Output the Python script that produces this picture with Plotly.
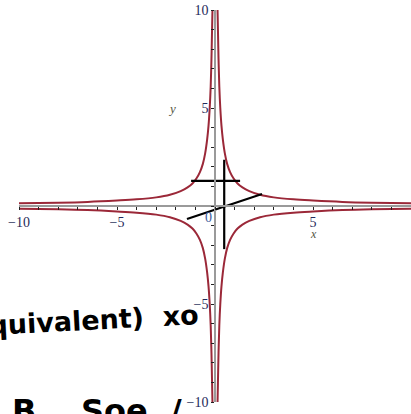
import plotly.graph_objects as go

# Branch of the curve in the first quadrant (read points); other quadrants by sign symmetry
branch_x = [0.13, 0.15, 0.18, 0.22, 0.27, 0.33, 0.40, 0.50, 0.62, 0.77, 0.95,
            1.15, 1.40, 1.75, 2.30, 3.00, 4.00, 5.00, 6.50, 8.00, 10.0]
branch_y = [10.0, 9.00, 7.50, 6.10, 5.00, 4.10, 3.40, 2.70, 2.15, 1.73, 1.40,
            1.15, 0.95, 0.76, 0.57, 0.44, 0.34, 0.28, 0.21, 0.17, 0.14]
quadrant_signs = [(1, 1), (-1, 1), (-1, -1), (1, -1)]

# Tick values / labels
major_ticks = [-10, -5, 5, 10]
major_labels = ["\u221210", "\u22125", "5", "10"]

# Hand-drawn strokes (data coordinates)
stroke_h_x = [-1.22, 1.28]
stroke_h_y = [1.28, 1.28]
stroke_v_x = [0.47, 0.47]
stroke_v_y = [2.36, -2.2]
stroke_s_x = [-1.43, 2.4]
stroke_s_y = [-0.66, 0.61]

curve_color = "#9b2838"
label_color = "#1f2a5a"
serif = "Liberation Serif"

fig = go.Figure()

for sx, sy in quadrant_signs:
    fig.add_trace(go.Scatter(
        x=[sx * v for v in branch_x], y=[sy * v for v in branch_y],
        mode="lines", line=dict(color=curve_color, width=2, shape="spline"),
        hoverinfo="skip", showlegend=False))

for xs, ys in [(stroke_h_x, stroke_h_y), (stroke_v_x, stroke_v_y), (stroke_s_x, stroke_s_y)]:
    fig.add_trace(go.Scatter(x=xs, y=ys, mode="lines",
                             line=dict(color="black", width=2.2),
                             hoverinfo="skip", showlegend=False))

axis_common = dict(
    range=[-10, 10], showgrid=False, zeroline=False,
    showline=True, linecolor="#9a9a9a", linewidth=1.5,
    anchor="free", position=0.5,
    tickvals=major_ticks, ticktext=major_labels,
    ticks="outside", ticklen=3, tickcolor="#222222", tickwidth=1,
    minor=dict(dtick=1, ticks="outside", ticklen=3, tickcolor="#222222"),
    tickfont=dict(family=serif, size=14, color=label_color),
    fixedrange=True,
)

fig.update_layout(
    width=411, height=414,
    margin=dict(l=19, r=0, t=10, b=12),
    paper_bgcolor="white", plot_bgcolor="white",
    xaxis=axis_common,
    yaxis=axis_common,
    annotations=[
        dict(x=5, y=-1.45, text="<i>x</i>", showarrow=False, xref="x", yref="y",
             font=dict(family=serif, size=12, color="#55553f")),
        dict(x=-2.2, y=5.0, text="<i>y</i>", showarrow=False, xref="x", yref="y",
             font=dict(family=serif, size=13, color="#55553f")),
        dict(x=-0.35, y=-0.6, text="0", showarrow=False, xref="x", yref="y",
             font=dict(family=serif, size=14, color="#3a5a9a")),
        dict(x=(202 - 19) / 392, y=1 - (320 - 10) / 392, text="<b>equivalent)  xo</b>",
             showarrow=False, xref="paper", yref="paper",
             xanchor="right", yanchor="middle", textangle=-3,
             font=dict(family="DejaVu Sans", size=27, color="black")),
        dict(x=(10 - 19) / 392, y=1 - (390 - 10) / 392, text="<b>B    Soe  /</b>",
             showarrow=False, xref="paper", yref="paper",
             xanchor="left", yanchor="top",
             font=dict(family="DejaVu Sans", size=32, color="black")),
    ],
)

fig.write_html("out.html")
